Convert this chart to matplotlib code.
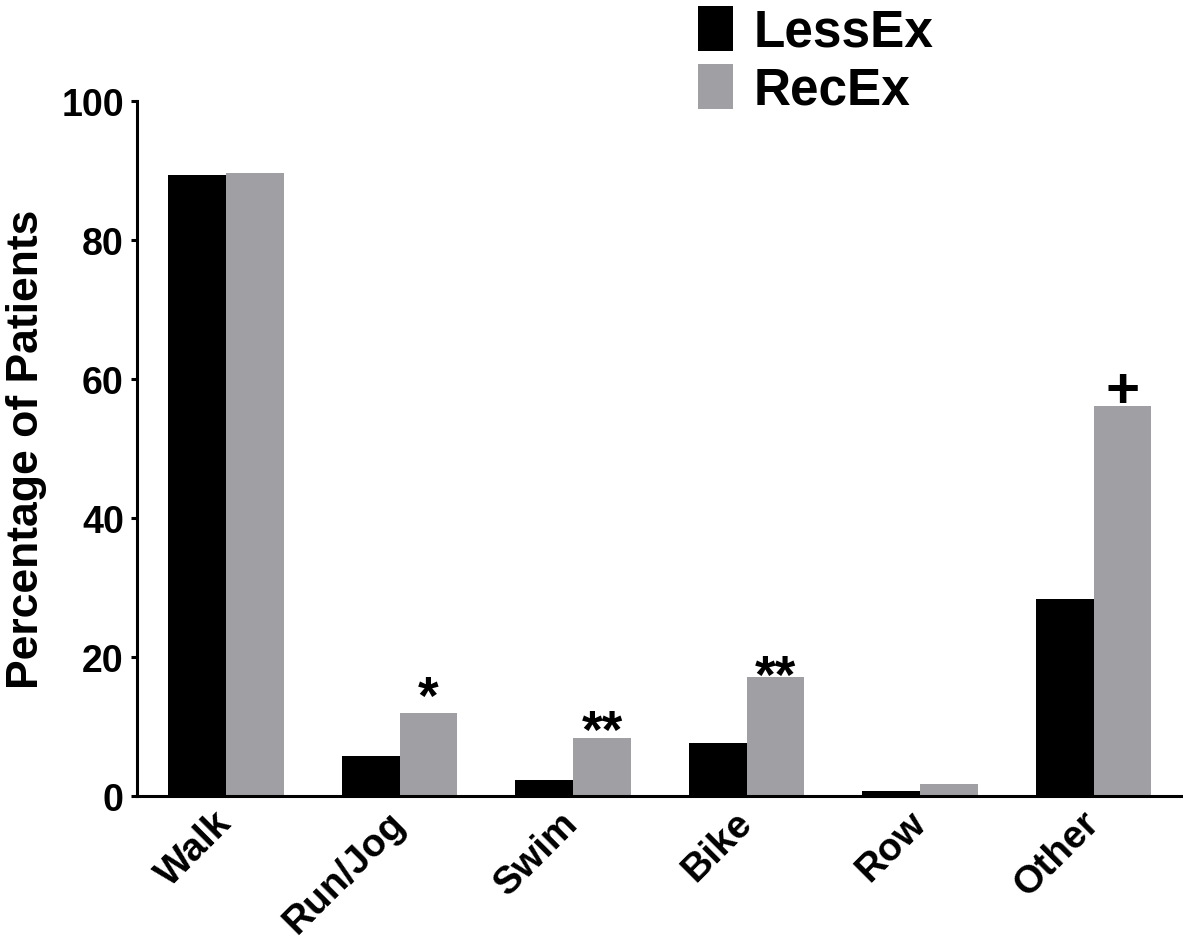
import numpy as np
import matplotlib.pyplot as plt

categories = ['Walk', 'Run/Jog', 'Swim', 'Bike', 'Row', 'Other']
less_ex = [89.3, 5.7, 2.3, 7.6, 0.7, 28.3]
rec_ex = [89.6, 11.9, 8.4, 17.1, 1.7, 56.1]
marks = ['', '*', '**', '**', '', '+']
# vertical nudge (points) of each significance mark above its bar
mark_dy = [0, 0, -7, -11, 0, -1]

plt.rcParams['font.family'] = ['Liberation Sans', 'DejaVu Sans']
plt.rcParams['font.weight'] = 'bold'

fig = plt.figure(figsize=(11.83, 9.53), dpi=100)
ax = fig.add_axes([137 / 1183, 1 - 797 / 953, 1045 / 1183, 695 / 953])

x = np.arange(len(categories))
w = 1 / 3
ax.bar(x - w / 2, less_ex, w, color='black', label='LessEx')
ax.bar(x + w / 2, rec_ex, w, color='#a0a0a4', label='RecEx')

for xi, v, m, dy in zip(x, rec_ex, marks, mark_dy):
    if not m:
        continue
    size = 42 if m == '+' else 38
    ax.annotate(m, (xi + w / 2, v), xytext=(0, dy), textcoords='offset points',
                ha='center', va='baseline', fontsize=size, fontweight='bold')

ax.set_xlim(-0.513, 5.51)
ax.set_ylim(0, 100)
ax.set_yticks([0, 20, 40, 60, 80, 100])
ax.set_xticks(x)
ax.set_xticklabels(categories, rotation=45, ha='right', va='center',
                   rotation_mode='anchor', fontsize=28, fontweight='bold')
ax.tick_params(axis='x', length=0, pad=15)
ax.tick_params(axis='y', length=4.5, width=2.2, pad=5, labelsize=27)
for lab in ax.get_yticklabels():
    lab.set_fontweight('bold')

for s in ['top', 'right']:
    ax.spines[s].set_visible(False)
for s in ['left', 'bottom']:
    ax.spines[s].set_linewidth(2.2)

ax.set_ylabel('Percentage of Patients', fontsize=32, fontweight='bold', labelpad=10)

fig.legend(loc='upper left', bbox_to_anchor=(0.59, 0.993), frameon=False,
           handlelength=0.68, handleheight=0.98, handletextpad=0.4,
           labelspacing=0.13, borderpad=0, borderaxespad=0,
           prop={'weight': 'bold', 'size': 37})

fig.savefig('out.png', dpi=100)
